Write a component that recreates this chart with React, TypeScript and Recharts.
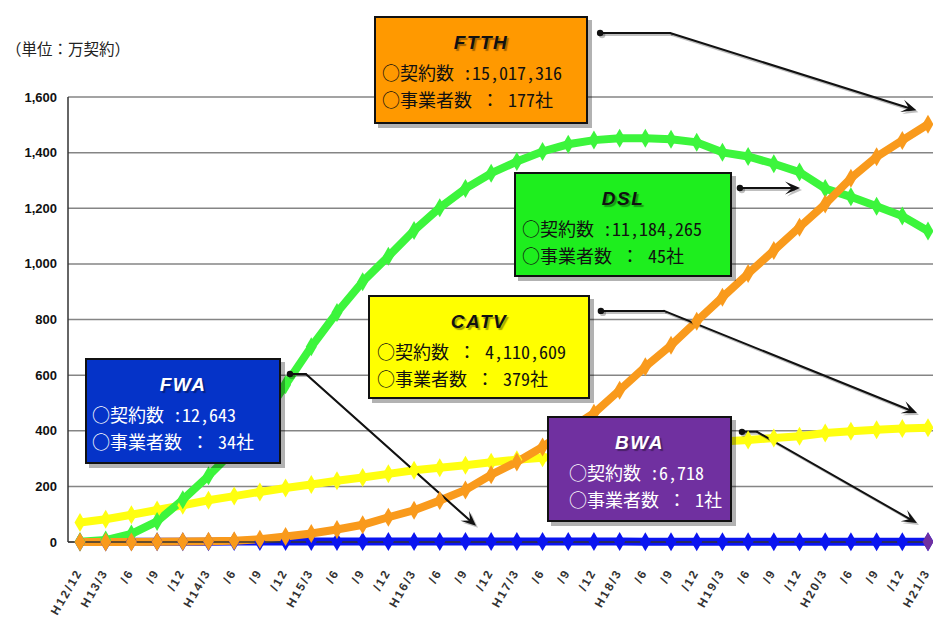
import React from 'react';
import { LineChart, Line, XAxis, YAxis, CartesianGrid, ReferenceLine } from 'recharts';

// Quarterly periods (Heisei year / month)
const periods = [
  'H12/12', 'H13/3', '/6', '/9', '/12', 'H14/3', '/6', '/9', '/12',
  'H15/3', '/6', '/9', '/12', 'H16/3', '/6', '/9', '/12',
  'H17/3', '/6', '/9', '/12', 'H18/3', '/6', '/9', '/12',
  'H19/3', '/6', '/9', '/12', 'H20/3', '/6', '/9', '/12', 'H21/3',
];

// Subscriptions, in units of 10,000 (万契約)
const ftthSubs = [
  0, 0, 0.2, 0.6, 1.5, 2.3, 4.6, 9.8, 20, 30.5, 45, 62, 89, 114, 149, 187, 242,
  288, 342, 404, 463, 546, 630, 707, 794, 880, 965, 1048, 1132, 1215, 1308, 1385, 1444, 1502,
];
const dslSubs = [
  1, 7, 29, 74, 152, 238, 330, 428, 565, 702, 825, 936, 1027, 1120, 1202, 1271, 1326,
  1368, 1404, 1430, 1445, 1452, 1452, 1448, 1437, 1401, 1386, 1360, 1330, 1271, 1241, 1207, 1172, 1118,
];
const catvSubs = [
  70, 82, 98, 115, 132, 150, 165, 180, 194, 207, 220, 232, 245, 258, 267, 276, 287,
  296, 303, 311, 318, 327, 333, 340, 347, 361, 367, 374, 380, 392, 398, 404, 408, 411,
];
const fwaSubs = [
  0.2, 0.4, 0.6, 0.8, 1.0, 1.2, 1.4, 1.6, 1.8, 1.9, 2.0, 2.0, 2.0, 1.9, 1.8, 1.7, 1.6,
  1.6, 1.5, 1.5, 1.4, 1.4, 1.3, 1.3, 1.3, 1.3, 1.3, 1.3, 1.3, 1.3, 1.3, 1.3, 1.3, 1.26,
];
const bwaSubs: (number | null)[] = [
  null, null, null, null, null, null, null, null, null, null, null, null, null, null, null, null, null,
  null, null, null, null, null, null, null, null, null, null, null, null, null, null, null, null, 0.67,
];

const yTicks = [0, 200, 400, 600, 800, 1000, 1200, 1400, 1600];

const rows = periods.map((p, i) => ({
  idx: i,
  period: p,
  FTTH: ftthSubs[i],
  DSL: dslSubs[i],
  CATV: catvSubs[i],
  FWA: fwaSubs[i],
  BWA: bwaSubs[i],
}));

const COLORS = {
  FTTH: '#F99A1C',
  DSL: '#3CF53C',
  CATV: '#FFFF10',
  FWA: '#0A14F0',
  BWA: '#7030A0',
};

// Callout boxes describing each service
const callouts = [
  { key: 'ftth', title: 'FTTH', lines: ['○契約数 :15,017,316', '○事業者数 ： 177社'], left: 374, top: 16, width: 214, height: 108, bg: '#FF9900', color: '#111', pad: 6 },
  { key: 'dsl', title: 'DSL', lines: ['○契約数 :11,184,265', '○事業者数 ： 45社'], left: 514, top: 172, width: 218, height: 105, bg: '#1EEE1E', color: '#111', pad: 6 },
  { key: 'catv', title: 'CATV', lines: ['○契約数 ： 4,110,609', '○事業者数 ： 379社'], left: 368, top: 295, width: 222, height: 104, bg: '#FFFF00', color: '#111', pad: 7 },
  { key: 'fwa', title: 'FWA', lines: ['○契約数 :12,643', '○事業者数 ： 34社'], left: 85, top: 358, width: 196, height: 106, bg: '#0533C8', color: '#fff', pad: 5 },
  { key: 'bwa', title: 'BWA', lines: ['○契約数 :6,718', '○事業者数 ： 1社'], left: 547, top: 416, width: 185, height: 106, bg: '#7030A0', color: '#fff', pad: 20 },
];

// Leader arrows from each callout to its series, in chart data units (x = period index, y = 万契約)
const leaders = [
  { key: 'ftth', from: { x: 20.24, y: 1830 }, bend: { x: 22.96, y: 1830 }, to: { x: 32.55, y: 1552 } },
  { key: 'dsl', from: { x: 25.68, y: 1273 }, bend: null, to: { x: 28.02, y: 1273 } },
  { key: 'catv', from: { x: 20.27, y: 831 }, bend: { x: 22.73, y: 831 }, to: { x: 32.57, y: 464 } },
  { key: 'fwa', from: { x: 8.17, y: 604 }, bend: { x: 8.79, y: 604 }, to: { x: 15.41, y: 58 } },
  { key: 'bwa', from: { x: 25.76, y: 396 }, bend: { x: 26.35, y: 396 }, to: { x: 32.57, y: 68 } },
];

const CJK_FONT = "'Noto Sans Mono CJK JP', 'Noto Sans CJK JP', sans-serif";
const LATIN_FONT = "'Liberation Sans', Arial, sans-serif";

const makeDiamond = (color: string) => (props: any) => {
  const { cx, cy, index } = props;
  if (cx == null || cy == null || Number.isNaN(cx) || Number.isNaN(cy)) {
    return <g key={`d-${index}`} />;
  }
  const w = 5.5;
  const h = 9.5;
  return (
    <polygon
      key={`d-${index}`}
      points={`${cx},${cy - h} ${cx + w},${cy} ${cx},${cy + h} ${cx - w},${cy}`}
      fill={color}
      stroke="none"
    />
  );
};

const segmentShape = (startDot: boolean, head: boolean) => (props: any) => {
  const { x1, y1, x2, y2 } = props;
  if ([x1, y1, x2, y2].some((v) => v == null || Number.isNaN(v))) return <g />;
  const dx = x2 - x1;
  const dy = y2 - y1;
  const len = Math.hypot(dx, dy) || 1;
  const ux = dx / len;
  const uy = dy / len;
  const nx = -uy;
  const ny = ux;
  const L = 15;
  const W = 6.5;
  const endX = head ? x2 - ux * 8 : x2;
  const endY = head ? y2 - uy * 8 : y2;
  const headPts = `${x2},${y2} ${x2 - ux * L + nx * W},${y2 - uy * L + ny * W} ${x2 - ux * 8},${y2 - uy * 8} ${x2 - ux * L - nx * W},${y2 - uy * L - ny * W}`;
  const draw = (ox: number, oy: number, col: string) => (
    <g transform={`translate(${ox},${oy})`}>
      <line x1={x1} y1={y1} x2={endX} y2={endY} stroke={col} strokeWidth={2} strokeLinecap="round" />
      {startDot && <circle cx={x1} cy={y1} r={3.2} fill={col} />}
      {head && <polygon points={headPts} fill={col} />}
    </g>
  );
  return (
    <g>
      {draw(2, 2, 'rgba(0,0,0,0.25)')}
      {draw(0, 0, '#111')}
    </g>
  );
};

const PeriodTick = (props: any) => {
  const { x, y, payload } = props;
  const label = periods[payload.value] ?? '';
  const ax = x - 1;
  const ay = y + 26;
  return (
    <text
      x={ax}
      y={ay}
      transform={`rotate(-60, ${ax}, ${ay})`}
      textAnchor="end"
      dy="0.35em"
      fontSize={12}
      fontWeight={700}
      letterSpacing={2}
      fill="#333"
      fontFamily={LATIN_FONT}
    >
      {label}
    </text>
  );
};

const formatCount = (v: number) => v.toLocaleString('en-US');

export default function App() {
  return (
    <div
      style={{
        position: 'absolute',
        left: 0,
        top: 0,
        width: 933,
        height: 618,
        background: '#fff',
        overflow: 'hidden',
      }}
    >
      <LineChart
        width={933}
        height={618}
        data={rows}
        margin={{ top: 97, right: 0, bottom: 6, left: 0 }}
      >
        <CartesianGrid vertical={false} stroke="#858585" strokeWidth={1.5} />
        <XAxis
          type="number"
          dataKey="idx"
          domain={[0, periods.length - 1]}
          ticks={periods.map((_, i) => i)}
          interval={0}
          padding={{ left: 12, right: 5 }}
          height={70}
          tickLine={false}
          tickSize={0}
          axisLine={{ stroke: '#333', strokeWidth: 1.5 }}
          tick={<PeriodTick />}
          allowDecimals={false}
        />
        <YAxis
          type="number"
          domain={[0, 1600]}
          ticks={yTicks}
          width={68}
          tickLine={false}
          tickSize={0}
          tickMargin={11}
          axisLine={{ stroke: '#333', strokeWidth: 1.5 }}
          tickFormatter={formatCount}
          tick={{ fontSize: 13, fontWeight: 900, fill: '#111', fontFamily: LATIN_FONT }}
        />
        <Line dataKey="FWA" stroke={COLORS.FWA} strokeWidth={8} dot={makeDiamond(COLORS.FWA)} activeDot={false} isAnimationActive={false} />
        <Line dataKey="BWA" stroke={COLORS.BWA} strokeWidth={8} dot={makeDiamond(COLORS.BWA)} activeDot={false} isAnimationActive={false} connectNulls={false} />
        <Line dataKey="CATV" stroke={COLORS.CATV} strokeWidth={8} dot={makeDiamond(COLORS.CATV)} activeDot={false} isAnimationActive={false} />
        <Line dataKey="DSL" stroke={COLORS.DSL} strokeWidth={8} dot={makeDiamond(COLORS.DSL)} activeDot={false} isAnimationActive={false} />
        <Line dataKey="FTTH" stroke={COLORS.FTTH} strokeWidth={8} dot={makeDiamond(COLORS.FTTH)} activeDot={false} isAnimationActive={false} />
        {leaders.map((ld) =>
          ld.bend ? (
            <React.Fragment key={ld.key}>
              <ReferenceLine
                segment={[ld.from, ld.bend]}
                ifOverflow="visible"
                shape={segmentShape(true, false)}
              />
              <ReferenceLine
                segment={[ld.bend, ld.to]}
                ifOverflow="visible"
                shape={segmentShape(false, true)}
              />
            </React.Fragment>
          ) : (
            <ReferenceLine
              key={ld.key}
              segment={[ld.from, ld.to]}
              ifOverflow="visible"
              shape={segmentShape(true, true)}
            />
          )
        )}
      </LineChart>

      <div
        style={{
          position: 'absolute',
          left: 6,
          top: 37,
          fontSize: 15.5,
          fontFamily: "'Noto Sans CJK JP', sans-serif",
          color: '#222',
          whiteSpace: 'nowrap',
        }}
      >
        （単位：万契約）
      </div>

      {callouts.map((c) => (
        <div
          key={c.key}
          style={{
            position: 'absolute',
            left: c.left,
            top: c.top,
            width: c.width,
            height: c.height,
            boxSizing: 'border-box',
            background: c.bg,
            border: '2px solid #111',
            boxShadow: '4px 4px 0 rgba(0,0,0,0.3)',
            color: c.color,
          }}
        >
          <div
            style={{
              position: 'absolute',
              left: 0,
              right: 0,
              top: 13,
              textAlign: 'center',
              fontFamily: LATIN_FONT,
              fontWeight: 700,
              fontStyle: 'italic',
              fontSize: 19,
              lineHeight: '24px',
              letterSpacing: 1.5,
              textShadow: '2px 2px 1px rgba(0,0,0,0.35)',
            }}
          >
            {c.title}
          </div>
          {c.lines.map((ln, i) => (
            <div
              key={i}
              style={{
                position: 'absolute',
                left: c.pad,
                top: 41 + i * 27,
                fontFamily: CJK_FONT,
                fontSize: 18,
                lineHeight: '26px',
                whiteSpace: 'nowrap',
              }}
            >
              {ln}
            </div>
          ))}
        </div>
      ))}
    </div>
  );
}
